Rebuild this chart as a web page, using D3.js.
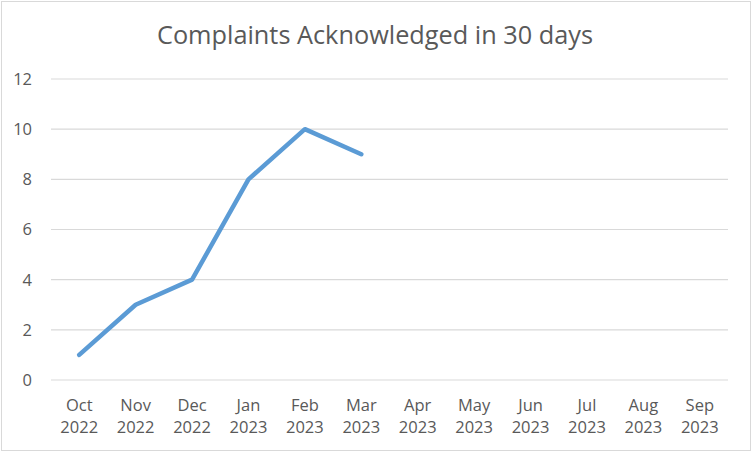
<!DOCTYPE html>
<html><head><meta charset="utf-8">
<script src="https://cdn.jsdelivr.net/npm/d3@7"></script>
<style>body{margin:0;background:#fff}svg{display:block}</style>
</head><body>
<svg id="c" width="752" height="452"></svg>
<script>
const months = ["Oct","Nov","Dec","Jan","Feb","Mar","Apr","May","Jun","Jul","Aug","Sep"];
const years = ["2022","2022","2022","2023","2023","2023","2023","2023","2023","2023","2023","2023"];
const values = [1,3,4,8,10,9];
const yTicks = [0,2,4,6,8,10,12];
const title = "Complaints Acknowledged in 30 days";

const svg = d3.select("#c");
const font = "'Open Sans', sans-serif";
svg.append("rect").attr("x",1.5).attr("y",1.5).attr("width",749).attr("height",449)
  .attr("fill","#fff").attr("stroke","#d9d9d9").attr("stroke-width",1);

const x = d3.scaleBand().domain(d3.range(months.length)).range([51,728]);
const y = d3.scaleLinear().domain([0,12]).range([380,79]);

svg.append("g").selectAll("line").data(yTicks).join("line")
  .attr("x1",51).attr("x2",728).attr("y1",d=>y(d)).attr("y2",d=>y(d))
  .attr("stroke","#d9d9d9").attr("stroke-width",1.2);

svg.append("g").selectAll("text").data(yTicks).join("text")
  .attr("x",32).attr("y",d=>y(d)).attr("dy","0.36em").attr("text-anchor","end")
  .attr("font-family",font).attr("font-size",16.5).attr("fill","#595959").text(d=>d);

const xl = svg.append("g").selectAll("text").data(months).join("text")
  .attr("x",(d,i)=>x(i)+x.bandwidth()/2).attr("text-anchor","middle")
  .attr("font-family",font).attr("font-size",16.5).attr("fill","#595959");
xl.append("tspan").attr("x",(d,i)=>x(i)+x.bandwidth()/2).attr("y",411).text(d=>d);
xl.append("tspan").attr("x",(d,i)=>x(i)+x.bandwidth()/2).attr("y",433).text((d,i)=>years[i]);

svg.append("path").datum(values)
  .attr("d",d3.line().x((d,i)=>x(i)+x.bandwidth()/2).y(d=>y(d)))
  .attr("fill","none").attr("stroke","#5b9bd5").attr("stroke-width",4.5)
  .attr("stroke-linecap","round").attr("stroke-linejoin","round");

svg.append("text").attr("x",375).attr("y",44).attr("text-anchor","middle")
  .attr("font-family",font).attr("font-size",25.3).attr("fill","#595959").text(title);
</script>
</body></html>
